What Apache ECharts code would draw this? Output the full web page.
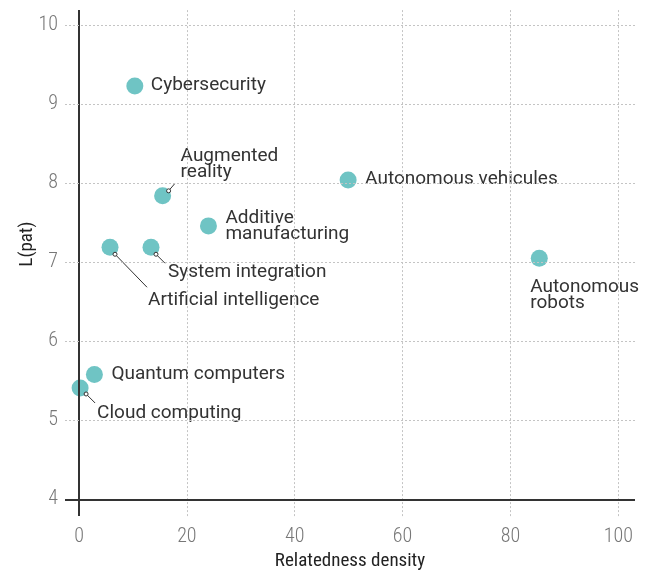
<!DOCTYPE html>
<html>
<head>
<meta charset="utf-8">
<script src="https://cdn.jsdelivr.net/npm/echarts@6/dist/echarts.min.js"></script>
<style>
  html, body { margin: 0; padding: 0; background: #fff; }
  #chart { width: 648px; height: 576px; }
</style>
</head>
<body>
<div id="chart"></div>
<script>
// data
const technologies = ['Cybersecurity', 'Augmented reality', 'Autonomous vehicules', 'Additive manufacturing',
    'System integration', 'Artificial intelligence', 'Autonomous robots', 'Quantum computers', 'Cloud computing'];
const relatedness = [10.35, 15.5, 49.9, 24.0, 13.35, 5.75, 85.35, 2.85, 0.2];
const lpat = [9.23, 7.84, 8.04, 7.46, 7.19, 7.19, 7.05, 5.58, 5.41];
const xTicks = [0, 20, 40, 60, 80, 100];
const yTicks = [4, 5, 6, 7, 8, 9, 10];

// label placement (pixel offsets from marker centre), leader lines
const labelPlace = {
    'Cybersecurity': { text: 'Cybersecurity', dx: 16, dy: -1 },
    'Augmented reality': { text: 'Augmented\nreality', dx: 18, dy: -32, lead: [6, -5, 12, -12] },
    'Autonomous vehicules': { text: 'Autonomous vehicules', dx: 17, dy: -1 },
    'Additive manufacturing': { text: 'Additive\nmanufacturing', dx: 17, dy: 0 },
    'System integration': { text: 'System integration', dx: 17, dy: 25, lead: [5, 7, 14, 16] },
    'Artificial intelligence': { text: 'Artificial intelligence', dx: 38, dy: 53, lead: [5, 7, 37, 40] },
    'Autonomous robots': { text: 'Autonomous\nrobots', dx: -9, dy: 37 },
    'Quantum computers': { text: 'Quantum computers', dx: 17, dy: 0 },
    'Cloud computing': { text: 'Cloud computing', dx: 17, dy: 25, lead: [6, 6, 15, 15] }
};

const condensed = "'Roboto Condensed', 'Liberation Sans Narrow', 'DejaVu Sans Condensed', Roboto, sans-serif";
const dotted = { type: [2, 2], color: '#c4c4c4', width: 1 };
const solid = { type: 'solid', color: '#333', width: 2 };

let chart = echarts.init(document.getElementById('chart'), null, { renderer: 'canvas' });

let points = technologies.map(function (name, i) {
    let p = labelPlace[name];
    return {
        name: name,
        value: [relatedness[i], lpat[i]],
        label: { formatter: p.text, offset: [p.dx, p.dy] }
    };
});

// grid lines and axis lines as mark lines
let gridLines = [];
xTicks.forEach(function (v) {
    gridLines.push({ xAxis: v, lineStyle: v === 0 ? solid : dotted });
});
yTicks.forEach(function (v) {
    gridLines.push({ yAxis: v, lineStyle: v === 4 ? solid : dotted });
});

let option = {
    animation: false,
    backgroundColor: '#fff',
    grid: { left: 65, right: 13, top: 10, bottom: 56, containLabel: false },
    xAxis: {
        type: 'value',
        min: -2.6,
        max: 103.1,
        name: 'Relatedness density',
        nameLocation: 'middle',
        nameGap: 30,
        nameTextStyle: { color: '#222', fontSize: 19, fontFamily: condensed },
        axisLine: { show: false },
        axisTick: { show: false },
        splitLine: { show: false },
        axisLabel: { customValues: xTicks, margin: 11, color: '#777', fontSize: 20, fontWeight: 300, fontFamily: condensed }
    },
    yAxis: {
        type: 'value',
        min: 3.79,
        max: 10.19,
        name: 'L(pat)',
        nameLocation: 'middle',
        nameGap: 28,
        nameMoveOverlap: false,
        nameTextStyle: { color: '#222', fontSize: 19, fontFamily: condensed, padding: [0, 0, 0, 38] },
        axisLine: { show: false },
        axisTick: { show: false },
        splitLine: { show: false },
        axisLabel: { customValues: yTicks, margin: 7, color: '#777', fontSize: 20, fontWeight: 300, fontFamily: condensed }
    },
    series: [
        {
            type: 'scatter',
            z: 1,
            silent: true,
            data: [],
            markLine: {
                silent: true,
                symbol: ['none', 'none'],
                label: { show: false },
                data: gridLines
            }
        },
        {
            type: 'scatter',
            z: 3,
            symbolSize: 17,
            itemStyle: { color: '#6fc4c4', opacity: 1 },
            label: {
                show: true,
                position: 'inside',
                align: 'left',
                verticalAlign: 'middle',
                color: '#333',
                fontSize: 19,
                lineHeight: 16,
                fontFamily: 'Roboto, sans-serif'
            },
            data: points
        },
        {
            type: 'custom',
            z: 4,
            silent: true,
            data: technologies.map(function (name, i) { return [relatedness[i], lpat[i]]; }),
            renderItem: function (params, api) {
                let lead = labelPlace[technologies[params.dataIndex]].lead;
                if (!lead) {
                    return null;
                }
                let c = api.coord([api.value(0), api.value(1)]);
                return {
                    type: 'group',
                    children: [
                        {
                            type: 'line',
                            shape: { x1: c[0] + lead[0], y1: c[1] + lead[1], x2: c[0] + lead[2], y2: c[1] + lead[3] },
                            style: { stroke: '#333', lineWidth: 1 }
                        },
                        {
                            type: 'circle',
                            shape: { cx: c[0] + lead[0], cy: c[1] + lead[1], r: 2 },
                            style: { fill: '#fff', stroke: '#333', lineWidth: 1 }
                        }
                    ]
                };
            }
        }
    ]
};

chart.setOption(option);
</script>
</body>
</html>
